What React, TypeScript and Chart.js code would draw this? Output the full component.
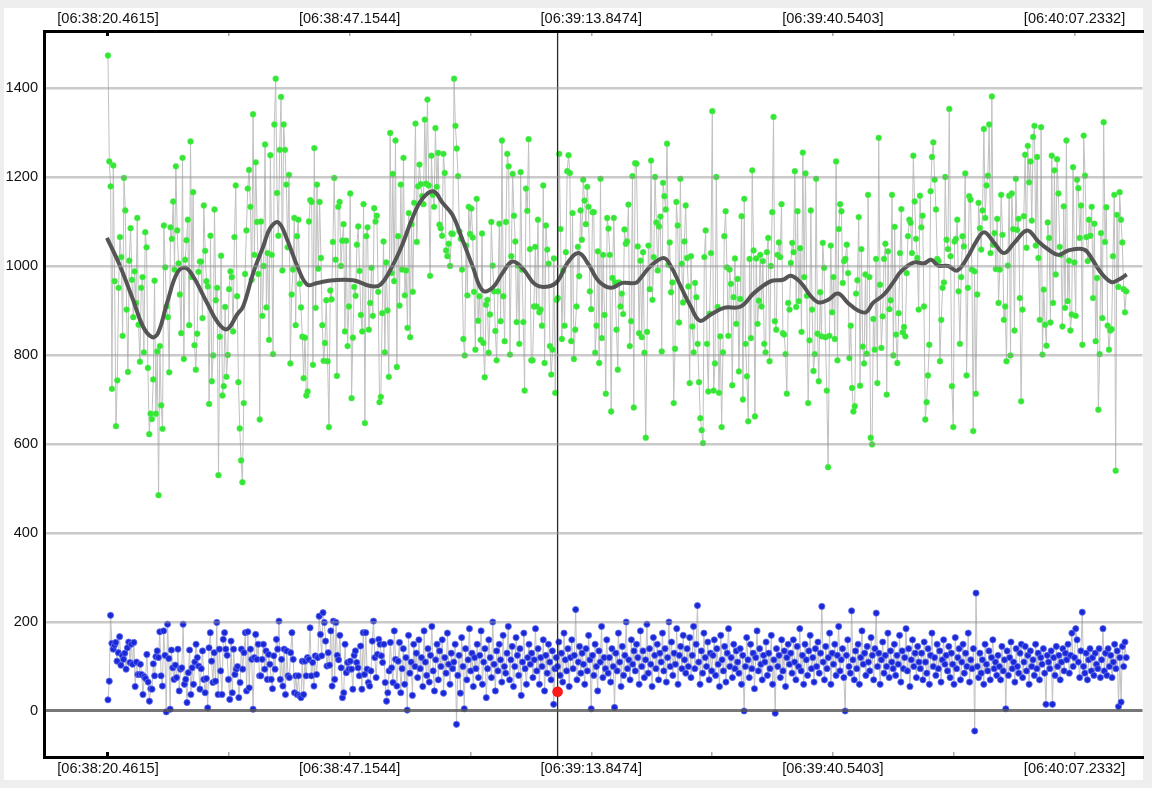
import { useEffect, useRef } from "react";
import { Chart, registerables } from "chart.js";

Chart.register(...registerables);

// time axis: seconds after 06:38:00
const T_START = 20.4615;
const T_END = 132.95;
const X_MIN = 13.395;
const X_MAX = 134.74;
const Y_MIN = -103.4;
const Y_MAX = 1528.1;

const xTickValues = [20.4615, 33.808, 47.1544, 60.5009, 73.8474, 87.1938, 100.5403, 113.8868, 127.2332];
const xTickLabels = ["[06:38:20.4615]", "", "[06:38:47.1544]", "", "[06:39:13.8474]", "", "[06:39:40.5403]", "", "[06:40:07.2332]"];
const yTickValues = [0, 200, 400, 600, 800, 1000, 1200, 1400];

const greenValues = [
  1473,1235,1179,724,1226,966,640,743,951,1065,1020,843,1198,1125,902,762,1012,1085,969,885,988,917,1108,868,785,951,975,806,1076,1042,771,622,668,656,745,967,668,808,485,820,687,634,1091,997,909,885,761,1087,1061,1145,992,1224,1080,1006,936,849,1243,791,1014,1058,1104,867,1280,975,1166,822,767,848,987,1010,1010,883,1136,1034,966,954,690,1068,741,799,1127,923,951,530,841,1023,709,730,908,751,800,948,988,975,853,1065,1181,932,739,635,563,514,692,982,1080,1174,1216,1133,969,1341,1025,1233,1099,982,655,1100,888,1000,1273,907,1029,834,1249,1025,802,1318,1421,1164,1068,1261,1380,990,1318,1261,1183,1042,1205,781,936,992,1108,867,1067,1104,960,907,841,748,839,709,718,1100,1148,1144,778,1265,906,1183,994,1144,1018,867,787,827,923,786,638,945,925,1054,1198,1014,753,1133,1144,1000,1057,1094,853,1057,820,909,1163,703,839,953,933,1048,1089,989,890,853,1139,647,1067,
  1087,857,917,996,888,1130,1100,1113,942,694,706,894,1055,806,1008,900,751,1299,984,1207,966,1282,773,1067,911,1183,992,1243,934,990,861,1119,840,1094,942,1142,1320,1054,1179,1228,1184,1157,1139,1329,1185,1374,1181,978,1248,1160,1133,1310,1178,1254,1093,1085,1068,1252,1209,1035,1022,1050,1000,1073,1072,1421,1315,1264,1202,1078,1061,992,836,799,1046,934,1133,1072,1129,1064,942,812,1151,877,932,834,1073,827,750,913,924,805,891,1099,1001,943,854,788,943,1095,876,1282,932,831,1099,1252,1224,801,1022,1207,1113,1055,874,1001,825,1211,992,874,720,1174,1124,1285,1038,788,788,909,1043,909,1104,896,902,866,1181,782,1091,1037,1005,820,756,812,1017,715,924,928,1252,1083,836,990,866,1031,1213,1249,1209,831,1119,791,857,909,1043,977,1125,1059,1194,1147,1094,1178,1133,943,903,1121,1121,805,866,1033,782,1196,838,1025,890,713,1108,1084,1025,673,973,1108,963,857,767,963,909,938,892,1082,1050,1055,1138,820,876,1202,682,1231,
  1230,1044,849,1012,840,1031,805,614,852,1046,948,1237,924,1020,1200,1098,990,1089,1111,808,1187,1157,1127,1275,1003,1053,941,963,692,814,1144,1091,873,1196,1005,918,1055,1136,1018,954,737,1022,864,806,962,930,825,739,658,631,602,1020,1080,825,718,893,1029,1348,720,781,1200,908,715,842,638,806,1067,1123,997,843,992,960,732,930,1017,870,971,763,926,1112,700,1151,825,752,651,1016,838,1215,1035,662,1017,870,922,1025,909,1011,825,806,1031,1063,786,1000,1121,1335,876,857,1025,1053,1020,1139,849,846,802,713,917,902,1007,1052,1031,1213,908,1123,921,1040,852,1255,975,1208,933,692,833,1125,902,764,802,1196,848,741,941,842,1052,996,840,720,548,843,1046,896,975,836,1235,788,1083,1139,1123,962,1011,1016,1048,984,793,866,726,673,685,938,968,1110,731,1038,819,781,981,803,1160,975,614,599,881,812,1016,737,1288,958,816,887,1016,1050,711,1033,903,923,1160,799,1088,846,782,
  894,1029,1128,851,863,842,984,1067,1104,1097,1029,1248,1145,1061,1018,902,1158,1087,1113,909,655,694,754,823,1168,1245,1278,1194,1127,1016,1011,786,879,951,963,1200,1059,1038,1353,1022,730,638,1055,1061,1104,943,825,975,1067,1044,1208,754,951,1157,1149,992,629,988,713,936,1142,1085,1037,1125,1308,1108,1181,1203,1318,1029,1381,1048,1074,993,1106,917,992,1160,1070,879,909,786,1001,1158,799,1163,1083,855,1196,1081,1106,928,696,902,1112,1250,1041,1270,1188,1235,1102,1290,1315,1046,1245,1018,879,1312,801,947,868,821,1098,1063,873,1248,917,1215,981,1240,1163,1043,1025,864,1134,906,1282,921,1012,855,891,1222,1008,888,1194,1175,1063,1136,823,1293,1203,1065,1011,1104,1068,1133,928,1095,831,973,677,802,1074,883,1323,1054,1132,866,812,855,858,1022,1160,540,1115,953,1166,1104,1053,948,896,943,
];

const blueValues = [
  25,67,215,152,139,148,154,112,131,167,103,125,116,130,94,142,155,109,150,105,154,55,110,82,82,105,82,37,77,73,127,65,22,50,49,106,79,122,135,120,178,79,56,180,125,-2,195,118,4,137,97,71,103,75,139,45,94,97,195,60,71,19,86,137,37,97,60,110,150,120,101,49,95,135,71,41,73,7,142,176,112,64,131,67,199,37,139,90,37,161,176,139,125,71,26,157,41,139,82,94,100,30,64,139,94,131,176,45,178,52,139,116,4,120,172,116,150,79,79,116,150,94,135,71,127,105,71,50,124,94,161,139,202,71,116,56,139,37,135,79,75,131,176,116,41,79,37,79,34,30,112,37,112,79,120,116,187,79,109,56,124,82,120,213,172,124,221,199,157,101,131,103,180,56,202,71,199,125,115,170,97,30,41,150,86,109,94,112,94,49,125,135,109,97,79,146,49,176,82,176,94,64,56,90,157,202,120,75,127,161,150,124,109,150,64,22,41,90,154,97,64,180,116,56,112,154,41,
  95,140,60,120,2,170,85,110,35,150,100,130,75,160,95,120,55,180,110,80,
  140,65,125,190,90,45,115,150,70,135,100,160,40,120,85,175,105,60,130,95,
  110,150,-30,80,125,40,165,100,5,140,70,115,185,90,130,55,120,95,150,75,
  125,180,60,110,140,30,95,160,120,75,200,105,45,135,90,150,115,65,170,100,
  85,130,190,70,115,145,55,100,165,125,80,140,35,110,175,95,60,120,150,105,
  130,75,115,185,90,140,60,120,100,160,45,125,85,150,110,70,135,15,95,120,
  100,155,80,130,65,175,115,90,140,55,120,160,95,125,228,70,110,145,85,130,
  105,60,140,90,170,115,5,125,80,150,100,45,135,110,190,75,120,95,160,85,
  120,65,140,100,8,130,90,175,110,55,145,80,125,200,95,115,70,160,105,135,
  90,150,120,60,180,100,135,75,115,195,85,140,105,55,165,125,95,150,70,130,
  110,175,90,140,65,120,200,100,155,80,130,105,185,60,125,145,95,170,115,85,
  140,100,165,75,125,190,95,150,237,110,60,135,85,175,120,100,155,70,130,90,
  125,160,80,140,105,55,170,115,90,145,65,130,185,100,120,75,150,95,135,110,
  85,140,60,125,0,100,165,115,75,150,95,130,50,120,180,90,140,105,70,125,
  110,155,80,130,95,170,60,115,-5,140,100,125,75,160,90,135,55,120,150,105,
  130,85,160,110,70,145,100,185,90,125,60,150,115,80,135,170,95,120,65,140,
  100,155,85,130,235,110,70,145,95,120,175,60,130,105,150,80,125,190,90,115,
  140,75,0,125,160,100,85,225,115,70,135,95,150,60,120,180,105,130,80,145,
  110,90,165,125,70,140,220,100,130,60,115,155,85,125,100,175,75,135,110,95,
  150,80,125,105,170,65,135,95,120,185,90,140,55,115,160,100,130,75,145,110,
  95,130,70,155,110,85,140,60,125,175,100,120,80,150,95,135,65,115,160,105,
  125,90,145,75,130,105,60,165,95,120,140,70,110,150,85,130,100,175,65,115,
  95,140,-45,265,100,75,130,85,115,60,150,105,90,135,70,120,160,95,110,80,
  125,100,70,145,90,115,5,135,80,120,155,95,110,65,140,100,85,130,150,75,
  110,145,90,125,60,135,100,115,80,150,95,130,70,120,105,140,85,15,125,110,
  95,135,15,120,80,145,100,125,70,110,140,90,130,115,150,85,125,175,100,120,
  185,160,110,75,135,222,100,85,130,70,115,140,90,120,80,130,105,95,140,75,
  115,185,90,130,80,140,100,125,75,110,150,95,135,10,120,20,145,100,155,120,
];

const smoothTimes = [
  20.35,21.79,23.23,24.33,25.33,25.99,26.99,28.09,28.98,29.86,31.41,32.63,33.62,34.73,35.39,36.5,37.61,38.38,39.27,40.26,
  41.37,42.47,43.58,45.35,47.56,49.44,50.55,51.88,52.98,54.09,55.19,56.41,57.41,58.51,59.62,60.73,61.83,62.94,64.04,65.15,
  66.37,67.69,69.13,70.13,71.23,72.45,73.56,74.66,75.99,77.32,78.76,79.31,80.42,81.85,82.63,83.73,84.84,85.84,87.05,88.49,
  90.37,91.81,93.69,95.02,95.9,97.01,98.11,99.0,100.0,101.1,102.21,103.31,104.2,104.97,106.19,107.3,108.07,109.51,110.61,111.39,
  112.16,113.27,114.27,115.48,116.37,117.25,118.36,119.46,120.57,122.01,123.23,124.33,125.44,126.54,128.31,129.09,130.19,131.3,132.08,133.0,
];
const smoothValues = [
  1063,1000,924,864,840,849,917,984,996,977,917,872,858,891,909,984,1044,1085,1098,1059,
  1000,958,962,968,968,955,958,1000,1048,1108,1151,1168,1142,1115,1059,1000,945,951,984,1010,
  992,958,954,966,1007,1029,1003,966,951,962,962,973,1000,1018,1000,954,909,877,891,906,
  909,939,966,969,978,962,932,918,924,938,917,900,896,917,936,966,988,1008,1006,1014,
  1001,1000,990,1022,1055,1076,1052,1029,1052,1080,1055,1037,1025,1035,1037,1018,984,964,969,981,
];

const cursorTime = 70.13;
const markerValue = 43;

function sampled(values: number[]) {
  const step = (T_END - T_START) / (values.length - 1);
  return values.map((y, i) => ({ x: T_START + i * step, y }));
}

const font = { family: "'Liberation Sans', Arial, Helvetica, sans-serif", size: 14.6 };

function xAxis(position: "top" | "bottom") {
  return {
    type: "linear" as const,
    position,
    min: X_MIN,
    max: X_MAX,
    bounds: "data" as const,
    afterBuildTicks: (s: any) => {
      s.ticks = xTickValues.map((value) => ({ value }));
    },
    afterFit: (s: any) => {
      s.height = 23;
    },
    ticks: {
      autoSkip: false,
      maxRotation: 0,
      minRotation: 0,
      padding: 8,
      color: "#111",
      font,
      callback: (_v: any, i: number) => xTickLabels[i],
    },
    grid: {
      drawOnChartArea: false,
      drawTicks: true,
      tickLength: -5,
      color: (c: any) => (c.index === 0 ? "#000" : "#aaa"),
      lineWidth: (c: any) => (c.index === 0 ? 3 : 1.5),
    },
    border: { display: true, color: "#000", width: 3, z: 2 },
  };
}

export default function App() {
  const ref = useRef<HTMLCanvasElement | null>(null);
  useEffect(() => {
    if (!ref.current) return;
    const chart = new Chart(ref.current, {
      type: "line",
      data: {
        datasets: [
          {
            label: "marker",
            data: [{ x: cursorTime, y: markerValue }],
            showLine: false,
            pointRadius: 5,
            pointBackgroundColor: "#ff1a1a",
            pointBorderColor: "#e00000",
            pointBorderWidth: 0.5,
            order: 0,
          },
          {
            label: "cursor",
            data: [
              { x: cursorTime, y: Y_MIN },
              { x: cursorTime, y: Y_MAX },
            ],
            borderColor: "#2a2a2a",
            borderWidth: 1.3,
            pointRadius: 0,
            order: 1,
          },
          {
            label: "smooth",
            data: smoothTimes.map((x, i) => ({ x, y: smoothValues[i] })),
            borderColor: "#555555",
            borderWidth: 4,
            pointRadius: 0,
            tension: 0.4,
            order: 2,
          },
          {
            label: "green",
            data: sampled(greenValues),
            borderColor: "#c0c0c0",
            borderWidth: 1,
            pointRadius: 2.9,
            pointBackgroundColor: "#36e636",
            pointBorderColor: "#4ced4c",
            pointBorderWidth: 0.5,
            order: 3,
          },
          {
            label: "blue",
            data: sampled(blueValues),
            borderColor: "#c0c0c0",
            borderWidth: 1,
            pointRadius: 3.1,
            pointBackgroundColor: "#1a28d8",
            pointBorderColor: "#6270ee",
            pointBorderWidth: 0.8,
            order: 4,
          },
        ],
      },
      options: {
        animation: false,
        responsive: true,
        maintainAspectRatio: false,
        events: [],
        layout: { padding: 0 },
        plugins: { legend: { display: false }, tooltip: { enabled: false } },
        scales: {
          x: xAxis("bottom"),
          x2: xAxis("top"),
          y: {
            type: "linear",
            min: Y_MIN,
            max: Y_MAX,
            bounds: "data",
            afterBuildTicks: (s: any) => {
              s.ticks = yTickValues.map((value) => ({ value }));
            },
            afterFit: (s: any) => {
              s.width = 40;
            },
            ticks: { padding: 6, color: "#111", font, callback: (v: any) => String(v) },
            grid: {
              drawTicks: false,
              z: 1,
              color: (c: any) => (c.tick && c.tick.value === 0 ? "rgba(85,85,85,0.8)" : "rgba(150,150,150,0.5)"),
              lineWidth: (c: any) => (c.tick && c.tick.value === 0 ? 3 : 2.5),
            },
            border: { display: true, color: "#000", width: 3, z: 2 },
          },
        },
      } as any,
    });
    return () => chart.destroy();
  }, []);

  return (
    <div style={{ position: "fixed", left: 0, top: 0, width: "100vw", height: "100vh", background: "#eeeeee" }}>
      <div style={{ position: "absolute", left: 4, top: 8, width: 1139, height: 772, background: "#ffffff" }}>
        <div style={{ position: "absolute", left: 0, top: 0, width: 1144, height: 772 }}>
          <canvas ref={ref} />
        </div>
      </div>
    </div>
  );
}
